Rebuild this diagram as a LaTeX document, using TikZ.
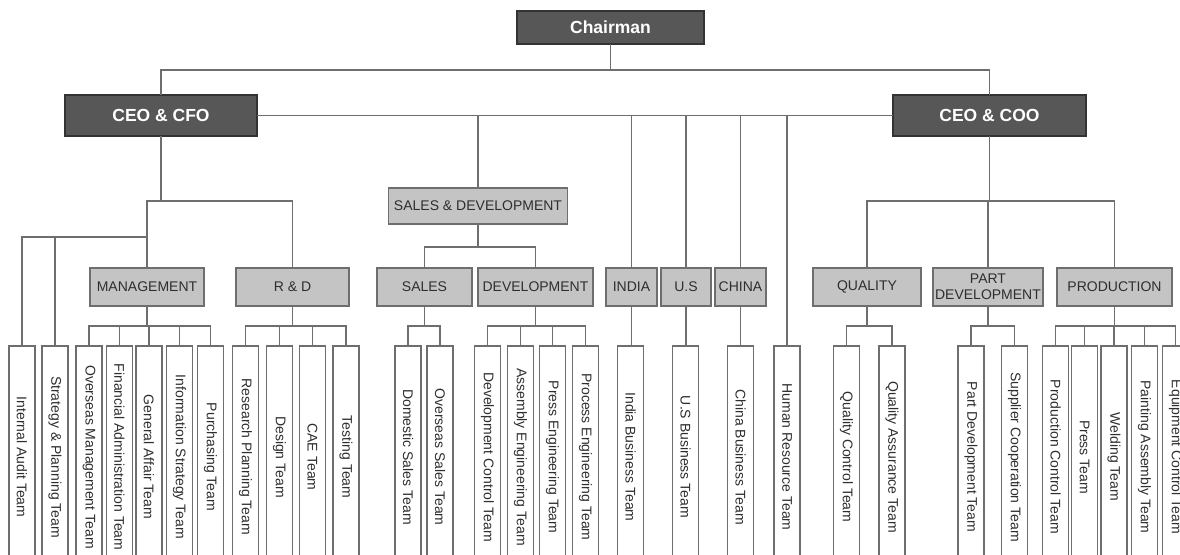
\documentclass[tikz,border=0pt]{standalone}
\usepackage{fontspec}
\setmainfont{Liberation Sans}
\usetikzlibrary{positioning}

\definecolor{chiefgray}{HTML}{575757}
\definecolor{chiefedge}{HTML}{333333}
\definecolor{unitgray}{HTML}{C4C4C4}
\definecolor{linegray}{HTML}{6E6E6E}
\definecolor{inkgray}{HTML}{2E2E2E}

\begin{document}
\begin{tikzpicture}[x=1pt, y=-1pt
    , every node/.style={inner sep=0pt, outer sep=0pt}
    , chief/.style={fill=chiefgray, draw=chiefedge, line width=1.2pt
        , text=white, font=\fontsize{17.5}{19}\selectfont\bfseries}
    , unit/.style={fill=unitgray, draw=linegray, line width=1.2pt
        , text=inkgray, minimum height=38pt, align=center
        , font=\fontsize{14}{16}\selectfont}
    , team/.style={fill=white, draw=linegray, line width=1.4pt
        , text=inkgray, minimum width=26pt, minimum height=222pt
        , font=\fontsize{14}{16}\selectfont}
    , link/.style={draw=linegray, line width=1.6pt}
    ]

    \fill[white] (0,0) rectangle (1180,554);
    \useasboundingbox (0,0) rectangle (1180,554);
    \clip (0,0) rectangle (1180,554);

    %% top of the chart
    \node[chief, minimum width=187pt, minimum height=33pt] (chair) at (610.5,27.5) {Chairman};
    \node[chief, minimum width=192pt, minimum height=41pt] (cfo) at (161,115.5) {CEO \& CFO};
    \node[chief, minimum width=193pt, minimum height=41pt] (coo) at (989.5,115.5) {CEO \& COO};

    % divisions
    \node[unit, minimum width=179pt, minimum height=36pt] (sd) at (478,206) {SALES \& DEVELOPMENT};
    \node[unit, minimum width=114pt] (mgmt) at (147,287) {MANAGEMENT};
    \node[unit, minimum width=113pt] (rd) at (292.5,287) {R \& D};
    \node[unit, minimum width=95pt] (sales) at (424.5,287) {SALES};
    \node[unit, minimum width=115pt] (dev) at (535.5,287) {DEVELOPMENT};
    \node[unit, minimum width=51pt] (india) at (631.5,287) {INDIA};
    \node[unit, minimum width=50pt] (us) at (686,287) {U.S};
    \node[unit, minimum width=51pt] (china) at (740.5,287) {CHINA};
    \node[unit, minimum width=108pt] (quality) at (867,287) {QUALITY};
    \node[unit, minimum width=110pt] (partdev) at (988,287) {PART\\DEVELOPMENT};
    \node[unit, minimum width=115pt] (prod) at (1114.5,287) {PRODUCTION};

    % teams
    \node[team] (audit) at (22,457) {\rotatebox{-90}{Internal Audit Team}};
    \node[team] (strat) at (55,457) {\rotatebox{-90}{Strategy \& Planning Team}};
    \node[team] (ovm) at (89,457) {\rotatebox{-90}{Overseas Management Team}};
    \node[team] (fin) at (119.5,457) {\rotatebox{-90}{Financial Administration Team}};
    \node[team] (gen) at (149,457) {\rotatebox{-90}{General Affair Team}};
    \node[team] (info) at (179.5,457) {\rotatebox{-90}{Information Strategy Team}};
    \node[team] (purch) at (210.5,457) {\rotatebox{-90}{Purchasing Team}};
    \node[team] (res) at (245.5,457) {\rotatebox{-90}{Research Planning Team}};
    \node[team] (design) at (279.5,457) {\rotatebox{-90}{Design Team}};
    \node[team] (cae) at (312.5,457) {\rotatebox{-90}{CAE Team}};
    \node[team] (test) at (346,457) {\rotatebox{-90}{Testing Team}};
    \node[team] (dom) at (408,457) {\rotatebox{-90}{Domestic Sales Team}};
    \node[team] (ovs) at (440,457) {\rotatebox{-90}{Overseas Sales Team}};
    \node[team] (devc) at (487.5,457) {\rotatebox{-90}{Development Control Team}};
    \node[team] (asm) at (520.5,457) {\rotatebox{-90}{Assembly Engineering Team}};
    \node[team] (presse) at (552.5,457) {\rotatebox{-90}{Press Engineering Team}};
    \node[team] (proce) at (585.5,457) {\rotatebox{-90}{Process Engineering Team}};
    \node[team] (indiab) at (630.5,457) {\rotatebox{-90}{India Business Team}};
    \node[team] (usb) at (685.5,457) {\rotatebox{-90}{U.S Business Team}};
    \node[team] (chinab) at (740.5,457) {\rotatebox{-90}{China Business Team}};
    \node[team] (hr) at (787,457) {\rotatebox{-90}{Human Resource Team}};
    \node[team] (qc) at (846.5,457) {\rotatebox{-90}{Quality Control Team}};
    \node[team] (qa) at (892,457) {\rotatebox{-90}{Quality Assurance Team}};
    \node[team] (pd) at (971,457) {\rotatebox{-90}{Part Development Team}};
    \node[team] (sup) at (1014.5,457) {\rotatebox{-90}{Supplier Cooperation Team}};
    \node[team] (pc) at (1055.5,457) {\rotatebox{-90}{Production Control Team}};
    \node[team] (press) at (1084.5,457) {\rotatebox{-90}{Press Team}};
    \node[team] (weld) at (1114,457) {\rotatebox{-90}{Welding Team}};
    \node[team] (paint) at (1144.5,457) {\rotatebox{-90}{Painting Assembly Team}};
    \node[team] (equip) at (1175.5,457) {\rotatebox{-90}{Equipment Control Team}};

    %% connectors
    \path[link] (chair.south) -- ++(0,26) coordinate (chair-bar)
        (cfo.north) |- (chair-bar)
        (coo.north) |- (chair-bar);
    \path[link] (cfo.east) -- (coo.west)
        (sd.north) -- (sd.north |- cfo.east)
        (india.north) -- (india.north |- cfo.east)
        (us.north) -- (us.north |- cfo.east)
        (china.north) -- (china.north |- cfo.east)
        (hr.north) -- (hr.north |- cfo.east);

    % CEO & CFO side
    \path[link] (cfo.south) -- ++(0,65) coordinate (cfo-bar)
        (mgmt.north) |- (cfo-bar)
        (rd.north) |- (cfo-bar)
        (audit.north) |- ([yshift=31pt]mgmt.north)
        (strat.north) |- ([yshift=31pt]mgmt.north);
    \path[link] (mgmt.south) -- ++(0,20) coordinate (mgmt-bar)
        (ovm.north) |- (mgmt-bar)
        (fin.north) |- (mgmt-bar)
        (gen.north) |- (mgmt-bar)
        (info.north) |- (mgmt-bar)
        (purch.north) |- (mgmt-bar);
    \path[link] (rd.south) -- ++(0,20) coordinate (rd-bar)
        (res.north) |- (rd-bar)
        (design.north) |- (rd-bar)
        (cae.north) |- (rd-bar)
        (test.north) |- (rd-bar);

    % sales & development
    \path[link] (sd.south) -- ++(0,23) coordinate (sd-bar)
        (sales.north) |- (sd-bar)
        (dev.north) |- (sd-bar);
    \path[link] (sales.south) -- ++(0,20) coordinate (sales-bar)
        (dom.north) |- (sales-bar)
        (ovs.north) |- (sales-bar);
    \path[link] (dev.south) -- ++(0,20) coordinate (dev-bar)
        (devc.north) |- (dev-bar)
        (asm.north) |- (dev-bar)
        (presse.north) |- (dev-bar)
        (proce.north) |- (dev-bar);
    \path[link] (india.south) -- (india.south |- indiab.north)
        (us.south) -- (us.south |- usb.north)
        (china.south) -- (chinab.north);

    % CEO & COO side
    \path[link] (coo.south) -- ++(0,65) coordinate (coo-bar)
        (quality.north) |- (coo-bar)
        (partdev.north) |- (coo-bar)
        (prod.north) |- (coo-bar);
    \path[link] (quality.south) -- ++(0,20) coordinate (quality-bar)
        (qc.north) |- (quality-bar)
        (qa.north) |- (quality-bar);
    \path[link] (partdev.south) -- ++(0,20) coordinate (partdev-bar)
        (pd.north) |- (partdev-bar)
        (sup.north) |- (partdev-bar);
    \path[link] (prod.south) -- ++(0,20) coordinate (prod-bar)
        (pc.north) |- (prod-bar)
        (press.north) |- (prod-bar)
        (weld.north) |- (prod-bar)
        (paint.north) |- (prod-bar)
        (equip.north) |- (prod-bar);

\end{tikzpicture}
\end{document}
